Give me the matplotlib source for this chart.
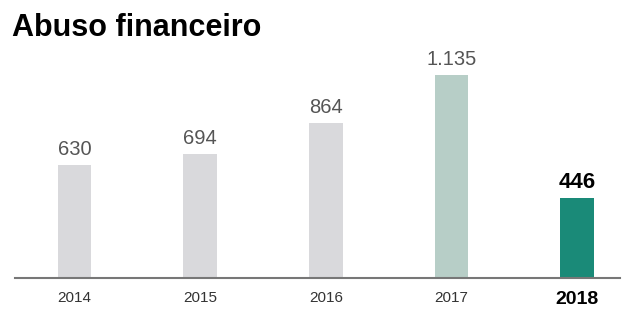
import matplotlib.pyplot as plt

years = ["2014", "2015", "2016", "2017", "2018"]
values = [630, 694, 864, 1135, 446]
labels = ["630", "694", "864", "1.135", "446"]
colors = ["#d9d9dc", "#d9d9dc", "#d9d9dc", "#b7cec7", "#1a8a78"]

fig = plt.figure(figsize=(6.27, 3.09), dpi=100)
ax = fig.add_axes([0.0239, 0.1003, 0.965, 0.77])

x = range(len(years))
ax.bar(x, values, width=0.27, color=colors, zorder=2)

for i, (v, lab) in enumerate(zip(values, labels)):
    if i == len(values) - 1:
        ax.text(i, v + 30, lab, ha="center", va="bottom", fontsize=16,
                fontweight="bold", color="black", family="Liberation Sans")
    else:
        ax.text(i, v + 35, lab, ha="center", va="bottom", fontsize=14.5,
                color="#555555", family="Liberation Sans")

ax.set_xlim(-0.4735, 4.341)
ax.set_ylim(0, 1330)
ax.set_yticks([])
ax.set_xticks(list(x))
ax.set_xticklabels(years, family="Liberation Sans", fontsize=11, color="#333333")
lab18 = ax.get_xticklabels()[-1]
lab18.set_fontweight("bold")
lab18.set_fontsize(14)
lab18.set_color("black")
ax.tick_params(axis="x", length=0, pad=9)

for s in ["top", "right", "left"]:
    ax.spines[s].set_visible(False)
ax.spines["bottom"].set_color("#777777")
ax.spines["bottom"].set_linewidth(1.5)

fig.text(0.019, 0.91, "Abuso financeiro", fontsize=22, fontweight="bold",
         family="Liberation Sans", va="center", ha="left")

fig.savefig("out.png", dpi=100)
